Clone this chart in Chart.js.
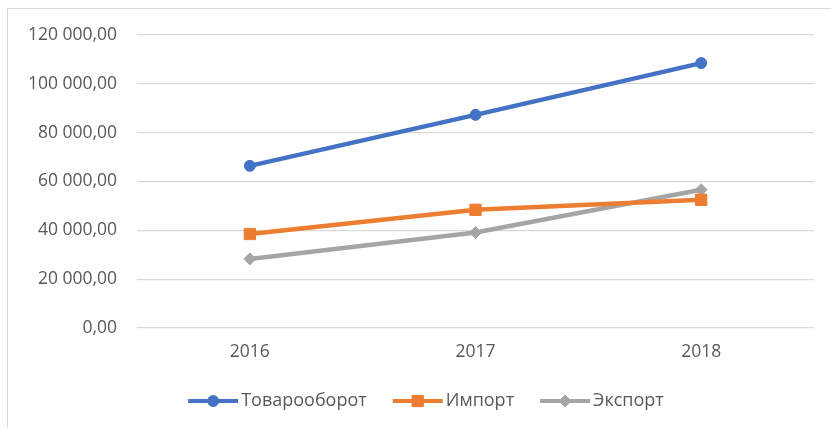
<!DOCTYPE html>
<html>
<head>
<meta charset="utf-8">
<script src="https://cdn.jsdelivr.net/npm/chart.js@4/dist/chart.umd.min.js"></script>
<style>
    html, body { margin: 0; padding: 0; background: #fff; overflow: hidden; }
    #wrap { position: relative; width: 831px; height: 428px; overflow: hidden; }
    #frame { position: absolute; left: 7px; top: 8px; width: 900px; height: 500px; border: 1.5px solid #d9d9d9; box-sizing: border-box; }
    canvas { position: absolute; left: 0; top: 0; }
</style>
</head>
<body>
<div id="wrap">
    <div id="frame"></div>
    <canvas id="trade-chart" width="831" height="428"></canvas>
</div>
<script>
// Chart data
const years = ['2016', '2017', '2018'];
const turnover = [66400, 87300, 108500];
const imports = [38500, 48400, 52500];
const exports = [28300, 39100, 56600];
const seriesNames = ['Товарооборот', 'Импорт', 'Экспорт'];
const yMin = 0;
const yMax = 120000;
const yStep = 20000;

const FONT = '"Open Sans", "Noto Sans", sans-serif';
const TEXT_COLOR = '#595959';

function formatTick(value) {
    const whole = Math.round(value).toString().replace(/\B(?=(\d{3})+(?!\d))/g, ' ');
    return whole + ',00';
}

function drawMarker(ctx, style, r, x, y) {
    if (Chart.helpers && Chart.helpers.drawPoint) {
        Chart.helpers.drawPoint(ctx, { pointStyle: style, radius: r, borderWidth: 1, rotation: 0 }, x, y);
        return;
    }
    ctx.beginPath();
    if (style === 'circle') {
        ctx.arc(x, y, r, 0, Math.PI * 2);
    } else if (style === 'rect') {
        const s = r * Math.SQRT1_2;
        ctx.rect(x - s, y - s, 2 * s, 2 * s);
    } else {
        ctx.moveTo(x - r, y); ctx.lineTo(x, y - r); ctx.lineTo(x + r, y); ctx.lineTo(x, y + r); ctx.closePath();
    }
    ctx.fill();
    ctx.stroke();
}

// legend with line + marker, like the office one
const lineLegend = {
    id: 'lineLegend',
    afterDraw(chart) {
        const ctx = chart.ctx;
        const sets = chart.data.datasets;
        const lineW = 50, gapText = 3, gapItem = 26;
        const centerX = 426, y = 401;
        ctx.save();
        ctx.font = '18px ' + FONT;
        const widths = sets.map(d => lineW + gapText + ctx.measureText(d.label).width);
        const total = widths.reduce((a, b) => a + b, 0) + gapItem * (sets.length - 1);
        let x = centerX - total / 2;
        sets.forEach((d, i) => {
            ctx.strokeStyle = d.borderColor;
            ctx.fillStyle = d.borderColor;
            ctx.lineWidth = 4;
            ctx.beginPath();
            ctx.moveTo(x, y);
            ctx.lineTo(x + lineW, y);
            ctx.stroke();
            ctx.lineWidth = 1;
            drawMarker(ctx, d.pointStyle, d.pointRadius, x + lineW / 2, y);
            ctx.fillStyle = TEXT_COLOR;
            ctx.textBaseline = 'middle';
            ctx.textAlign = 'left';
            ctx.fillText(d.label, x + lineW + gapText, y);
            x += widths[i] + gapItem;
        });
        ctx.restore();
    }
};

function makeSet(label, data, color, style, radius) {
    return {
        label: label,
        data: data,
        borderColor: color,
        backgroundColor: color,
        borderWidth: 4.5,
        pointStyle: style,
        pointRadius: radius,
        pointHoverRadius: radius,
        pointBorderWidth: 1,
        pointBackgroundColor: color,
        pointBorderColor: color,
        tension: 0,
        fill: false
    };
}

new Chart(document.getElementById('trade-chart'), {
    type: 'line',
    data: {
        labels: years,
        datasets: [
            makeSet(seriesNames[0], turnover, '#4472C4', 'circle', 5.5),
            makeSet(seriesNames[1], imports, '#ED7D31', 'rect', 8),
            makeSet(seriesNames[2], exports, '#A5A5A5', 'rectRot', 6)
        ]
    },
    options: {
        responsive: false,
        animation: false,
        layout: { padding: { left: 0, right: 17, top: 35, bottom: 0 } },
        plugins: {
            legend: { display: false },
            tooltip: { enabled: false }
        },
        scales: {
            x: {
                offset: true,
                grid: { display: false, drawTicks: false },
                border: { display: false },
                ticks: { color: TEXT_COLOR, font: { family: FONT, size: 17.5 }, padding: 14 },
                afterFit(axis) { axis.height = 100; }
            },
            y: {
                min: yMin,
                max: yMax,
                grid: { color: '#d9d9d9', lineWidth: 1.3, drawTicks: false },
                border: { display: false },
                ticks: {
                    stepSize: yStep,
                    color: TEXT_COLOR,
                    font: { family: FONT, size: 17.5 },
                    padding: 20,
                    callback: formatTick
                },
                afterFit(axis) { axis.width = 137; }
            }
        }
    },
    plugins: [lineLegend]
});
</script>
</body>
</html>
